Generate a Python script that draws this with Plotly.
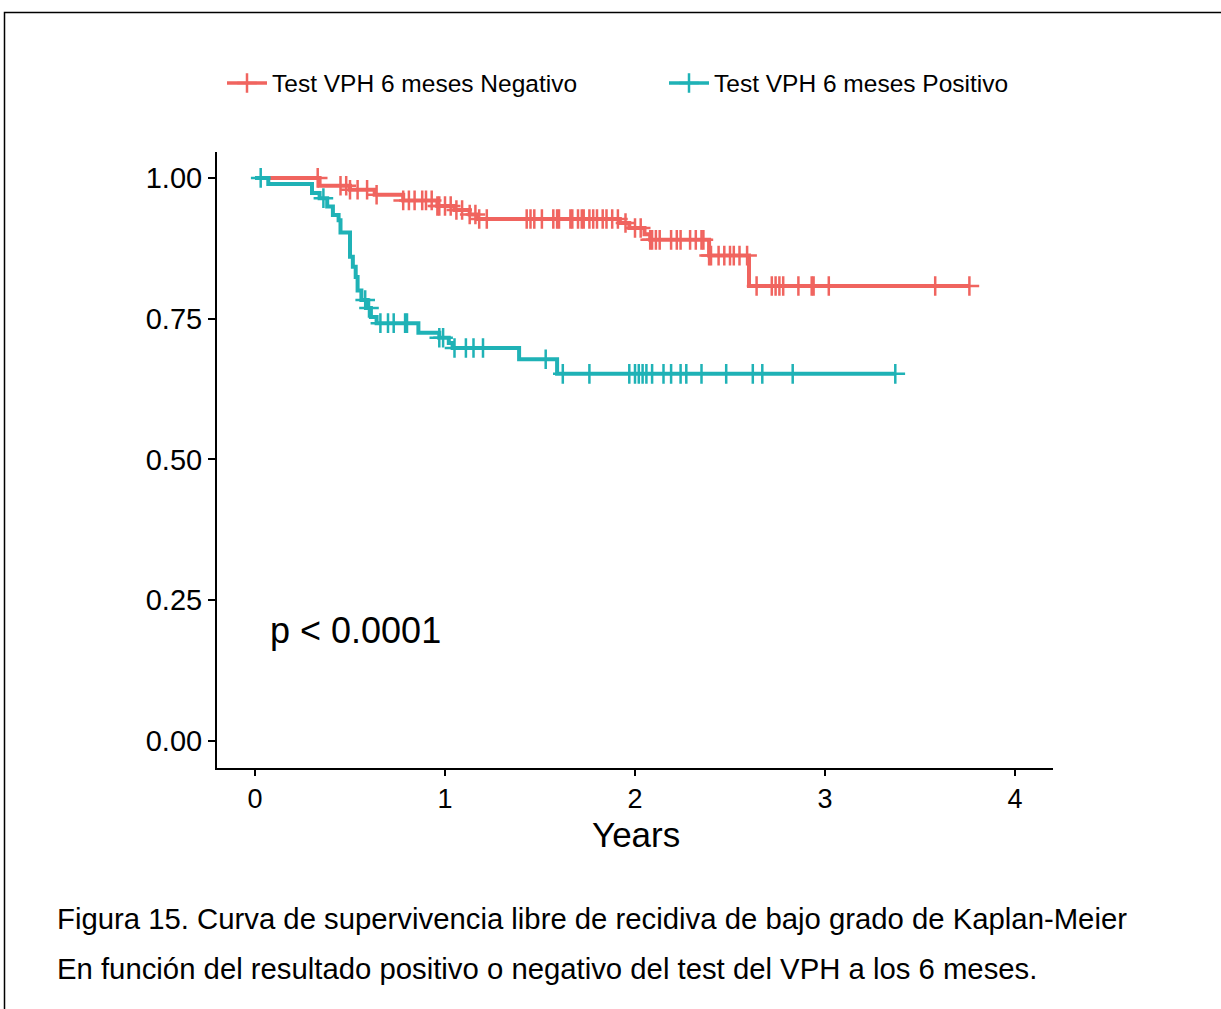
import plotly.graph_objects as go

# ---------------- data ----------------
group_names = ["Test VPH 6 meses Negativo", "Test VPH 6 meses Positivo"]

neg_times = [0, 0.34, 0.50, 0.63, 0.78, 0.96, 1.05, 1.13, 1.17, 1.92, 1.97, 2.05, 2.08, 2.39, 2.60]
neg_surv = [1.0, 0.986, 0.979, 0.970, 0.960, 0.950, 0.943, 0.935, 0.927, 0.920, 0.911, 0.900, 0.890, 0.862, 0.808]
neg_end = 3.76
neg_censor = [0.33, 0.45, 0.48, 0.50, 0.54, 0.59, 0.64, 0.78, 0.81, 0.84, 0.88, 0.90, 0.93, 0.96, 0.97,
              1.00, 1.03, 1.06, 1.09, 1.13, 1.16, 1.18, 1.22, 1.43, 1.45, 1.47, 1.51, 1.57, 1.59, 1.60,
              1.66, 1.67, 1.70, 1.72, 1.73, 1.76, 1.78, 1.80, 1.83, 1.85, 1.88, 1.91, 1.95, 2.00, 2.03,
              2.08, 2.09, 2.11, 2.13, 2.19, 2.22, 2.24, 2.29, 2.32, 2.35, 2.36, 2.39, 2.40, 2.44, 2.47,
              2.50, 2.52, 2.55, 2.59, 2.64, 2.72, 2.74, 2.76, 2.78, 2.86, 2.93, 2.94, 3.02, 3.58, 3.76]

pos_times = [0, 0.07, 0.30, 0.34, 0.38, 0.41, 0.44, 0.45, 0.50, 0.515, 0.53, 0.54, 0.56, 0.59, 0.61,
             0.64, 0.86, 0.97, 1.02, 1.04, 1.39, 1.59]
pos_surv = [1.0, 0.989, 0.973, 0.964, 0.949, 0.934, 0.925, 0.903, 0.860, 0.842, 0.824, 0.800, 0.783,
            0.769, 0.753, 0.742, 0.725, 0.716, 0.707, 0.698, 0.678, 0.652]
pos_end = 3.37
pos_censor = [0.03, 0.36, 0.58, 0.60, 0.66, 0.70, 0.73, 0.79, 0.80, 0.97, 0.99, 1.05, 1.11, 1.15, 1.20,
              1.53, 1.62, 1.76, 1.97, 2.00, 2.02, 2.04, 2.06, 2.09, 2.15, 2.19, 2.24, 2.27, 2.35, 2.48,
              2.62, 2.67, 2.83, 3.37]

x_ticks = [0, 1, 2, 3, 4]
y_ticks = [0.0, 0.25, 0.5, 0.75, 1.0]
y_tick_text = ["0.00", "0.25", "0.50", "0.75", "1.00"]
p_text = "p < 0.0001"
x_title = "Years"
caption_lines = ["Figura 15. Curva de supervivencia libre de recidiva de bajo grado de Kaplan-Meier",
                 "En función del resultado positivo o negativo del test del VPH a los 6 meses."]

colors = ["#F0645F", "#1FB2B6"]
FONT = "Liberation Sans, Arial, Helvetica, sans-serif"


def surv_at(times, surv, t):
    s = surv[0]
    for ti, si in zip(times, surv):
        if ti <= t:
            s = si
    return s


fig = go.Figure()
series = [(neg_times, neg_surv, neg_end, neg_censor), (pos_times, pos_surv, pos_end, pos_censor)]
for i, (times, surv, end, cens) in enumerate(series):
    xs = list(times) + [end]
    ys = list(surv) + [surv[-1]]
    fig.add_trace(go.Scatter(x=xs, y=ys, mode="lines", line=dict(color=colors[i], width=4, shape="hv"),
                             showlegend=False, hoverinfo="skip"))
    fig.add_trace(go.Scatter(x=cens, y=[surv_at(times, surv, c) for c in cens], mode="markers",
                             marker=dict(symbol="cross-thin", size=14, line=dict(color=colors[i], width=2.5)),
                             showlegend=False, hoverinfo="skip"))
    fig.add_trace(go.Scatter(x=[None], y=[None], mode="lines+markers", name=group_names[i],
                             line=dict(color=colors[i], width=3.5),
                             marker=dict(symbol="cross-thin", size=14, line=dict(color=colors[i], width=2.5)),
                             legend="legend" if i == 0 else "legend2"))

W, H = 1221, 1009
L, R, T, B = 217, 1221 - 1053, 152, 1009 - 768
pw, ph = W - L - R, H - T - B


def px_x(p):
    return (p - L) / pw


def px_y(p):
    return (H - B - p) / ph


fig.add_annotation(x=0.07, y=0.197, xref="x", yref="y", text=p_text, showarrow=False, xanchor="left",
                   yanchor="middle", font=dict(size=36, color="black", family=FONT))
fig.add_annotation(x=px_x(636), y=px_y(834), xref="paper", yref="paper", text=x_title, showarrow=False,
                   xanchor="center", yanchor="middle", font=dict(size=35, color="black", family=FONT))
for k, line in enumerate(caption_lines):
    fig.add_annotation(x=px_x(55), y=px_y(918 + 50 * k), xref="paper", yref="paper", text=line,
                       showarrow=False, xanchor="left", yanchor="middle",
                       font=dict(size=29.3, color="black", family=FONT))

# frame around the figure
fig.add_shape(type="rect", xref="paper", yref="paper", x0=px_x(4.5), x1=px_x(1230), y0=px_y(1030),
              y1=px_y(12.5), line=dict(color="black", width=1.5), fillcolor="rgba(0,0,0,0)", layer="below")

fig.update_layout(
    width=W, height=H,
    margin=dict(l=L, r=R, t=T, b=B),
    paper_bgcolor="white", plot_bgcolor="white",
    font=dict(family=FONT, color="black"),
    xaxis=dict(range=[-0.2, 4.2], tickvals=x_ticks, ticks="outside", ticklen=6, tickwidth=2,
               tickcolor="black", showline=True, linecolor="black", linewidth=2, showgrid=False,
               zeroline=False, tickfont=dict(size=27, color="black"), ticklabelstandoff=0),
    yaxis=dict(range=[-0.048, 1.046], tickvals=y_ticks, ticktext=y_tick_text, ticks="outside",
               ticklen=7, tickwidth=2, tickcolor="black", showline=True, linecolor="black", linewidth=2,
               showgrid=False, zeroline=False, tickfont=dict(size=29, color="black")),
    legend=dict(x=px_x(222), y=px_y(83), xanchor="left", yanchor="middle", orientation="h",
                font=dict(size=24.5, color="black"), bgcolor="rgba(0,0,0,0)", itemwidth=40),
    legend2=dict(x=px_x(664), y=px_y(83), xanchor="left", yanchor="middle", orientation="h",
                 font=dict(size=24.5, color="black"), bgcolor="rgba(0,0,0,0)", itemwidth=40),
)

fig.write_html("out.html")
